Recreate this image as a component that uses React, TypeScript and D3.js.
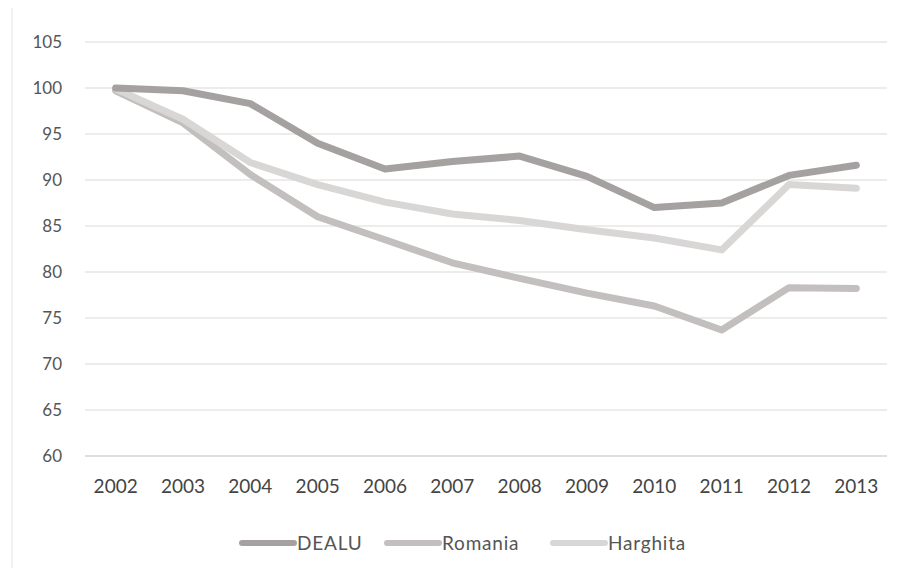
import React, { useEffect, useRef } from 'react';
import * as d3 from 'd3';

const years = ['2002', '2003', '2004', '2005', '2006', '2007', '2008', '2009', '2010', '2011', '2012', '2013'];
const dealu = [100, 99.7, 98.3, 94.0, 91.2, 92.0, 92.6, 90.4, 87.0, 87.5, 90.5, 91.6];
const romania = [99.7, 96.2, 90.6, 86.0, 83.5, 81.0, 79.3, 77.7, 76.3, 73.7, 78.3, 78.2];
const harghita = [99.9, 96.6, 91.9, 89.5, 87.6, 86.3, 85.6, 84.6, 83.7, 82.4, 89.5, 89.1];
const yTicks = [60, 65, 70, 75, 80, 85, 90, 95, 100, 105];

const series = [
  { name: 'DEALU', values: dealu, color: '#a6a1a1' },
  { name: 'Romania', values: romania, color: '#c3bfbf' },
  { name: 'Harghita', values: harghita, color: '#d9d6d6' },
];

const App: React.FC = () => {
  const svgRef = useRef<SVGSVGElement>(null);
  const width = 905;
  const height = 576;

  useEffect(() => {
    if (!svgRef.current) return;
    const svg = d3.select(svgRef.current);
    svg.selectAll('*').remove();

    const margin = { top: 42, right: 15, bottom: 120, left: 82 };
    const chartWidth = width - margin.left - margin.right;
    const plotHeight = 414;

    svg.append('rect')
      .attr('x', 0).attr('y', 0).attr('width', width).attr('height', height)
      .attr('fill', '#ffffff');

    // faint frame of the scanned chart
    svg.append('rect')
      .attr('x', 12).attr('y', 6).attr('width', width - 14).attr('height', height - 8)
      .attr('fill', 'none').attr('stroke', '#eeeeee').attr('stroke-width', 1.5);

    const xScale = d3.scalePoint()
      .domain(years)
      .range([0, chartWidth])
      .padding(0.5);

    const yScale = d3.scaleLinear()
      .domain([60, 105])
      .range([plotHeight, 0]);

    const g = svg.append('g')
      .attr('transform', `translate(${margin.left}, ${margin.top})`);

    // gridlines
    g.selectAll('.grid')
      .data(yTicks)
      .enter()
      .append('line')
      .attr('x1', 3)
      .attr('x2', chartWidth - 3)
      .attr('y1', d => yScale(d))
      .attr('y2', d => yScale(d))
      .attr('stroke', d => (d === 60 ? '#d4d4d4' : '#e6e6e6'))
      .attr('stroke-width', 1.3);

    // y labels
    g.selectAll('.ylab')
      .data(yTicks)
      .enter()
      .append('text')
      .attr('x', -20)
      .attr('y', d => yScale(d))
      .attr('dy', '0.35em')
      .attr('text-anchor', 'end')
      .style('font-family', 'Lato, "Open Sans", sans-serif')
      .style('font-size', '17px')
      .style('fill', '#555555')
      .text(d => d);

    // x labels
    g.selectAll('.xlab')
      .data(years)
      .enter()
      .append('text')
      .attr('x', d => xScale(d) || 0)
      .attr('y', yScale(60) + 37)
      .attr('text-anchor', 'middle')
      .style('font-family', 'Lato, "Open Sans", sans-serif')
      .style('font-size', '19px')
      .style('fill', '#444444')
      .text(d => d);

    const line = d3.line<number>()
      .x((_, i) => xScale(years[i]) || 0)
      .y(d => yScale(d));

    // Romania first, then Harghita, DEALU on top
    [series[1], series[2], series[0]].forEach(s => {
      g.append('path')
        .datum(s.values)
        .attr('fill', 'none')
        .attr('stroke', s.color)
        .attr('stroke-width', 7)
        .attr('stroke-linejoin', 'round')
        .attr('stroke-linecap', 'round')
        .attr('d', line);
    });

    // legend
    const legendX = [242, 387, 553];
    const legendY = 543;
    series.forEach((s, i) => {
      const lg = svg.append('g').attr('transform', `translate(${legendX[i]}, ${legendY})`);
      lg.append('line')
        .attr('x1', 0).attr('x2', 52).attr('y1', 0).attr('y2', 0)
        .attr('stroke', s.color).attr('stroke-width', 6).attr('stroke-linecap', 'round');
      lg.append('text')
        .attr('x', 55)
        .attr('y', 0)
        .attr('dy', '0.35em')
        .style('font-family', 'Lato, "Open Sans", sans-serif')
        .style('font-size', '19px')
        .style('letter-spacing', '0.8px')
        .style('fill', '#555555')
        .text(s.name);
    });
  }, []);

  return (
    <div style={{ width, height, margin: -8 }}>
      <svg ref={svgRef} width={width} height={height} style={{ display: 'block' }} />
    </div>
  );
};

export default App;
